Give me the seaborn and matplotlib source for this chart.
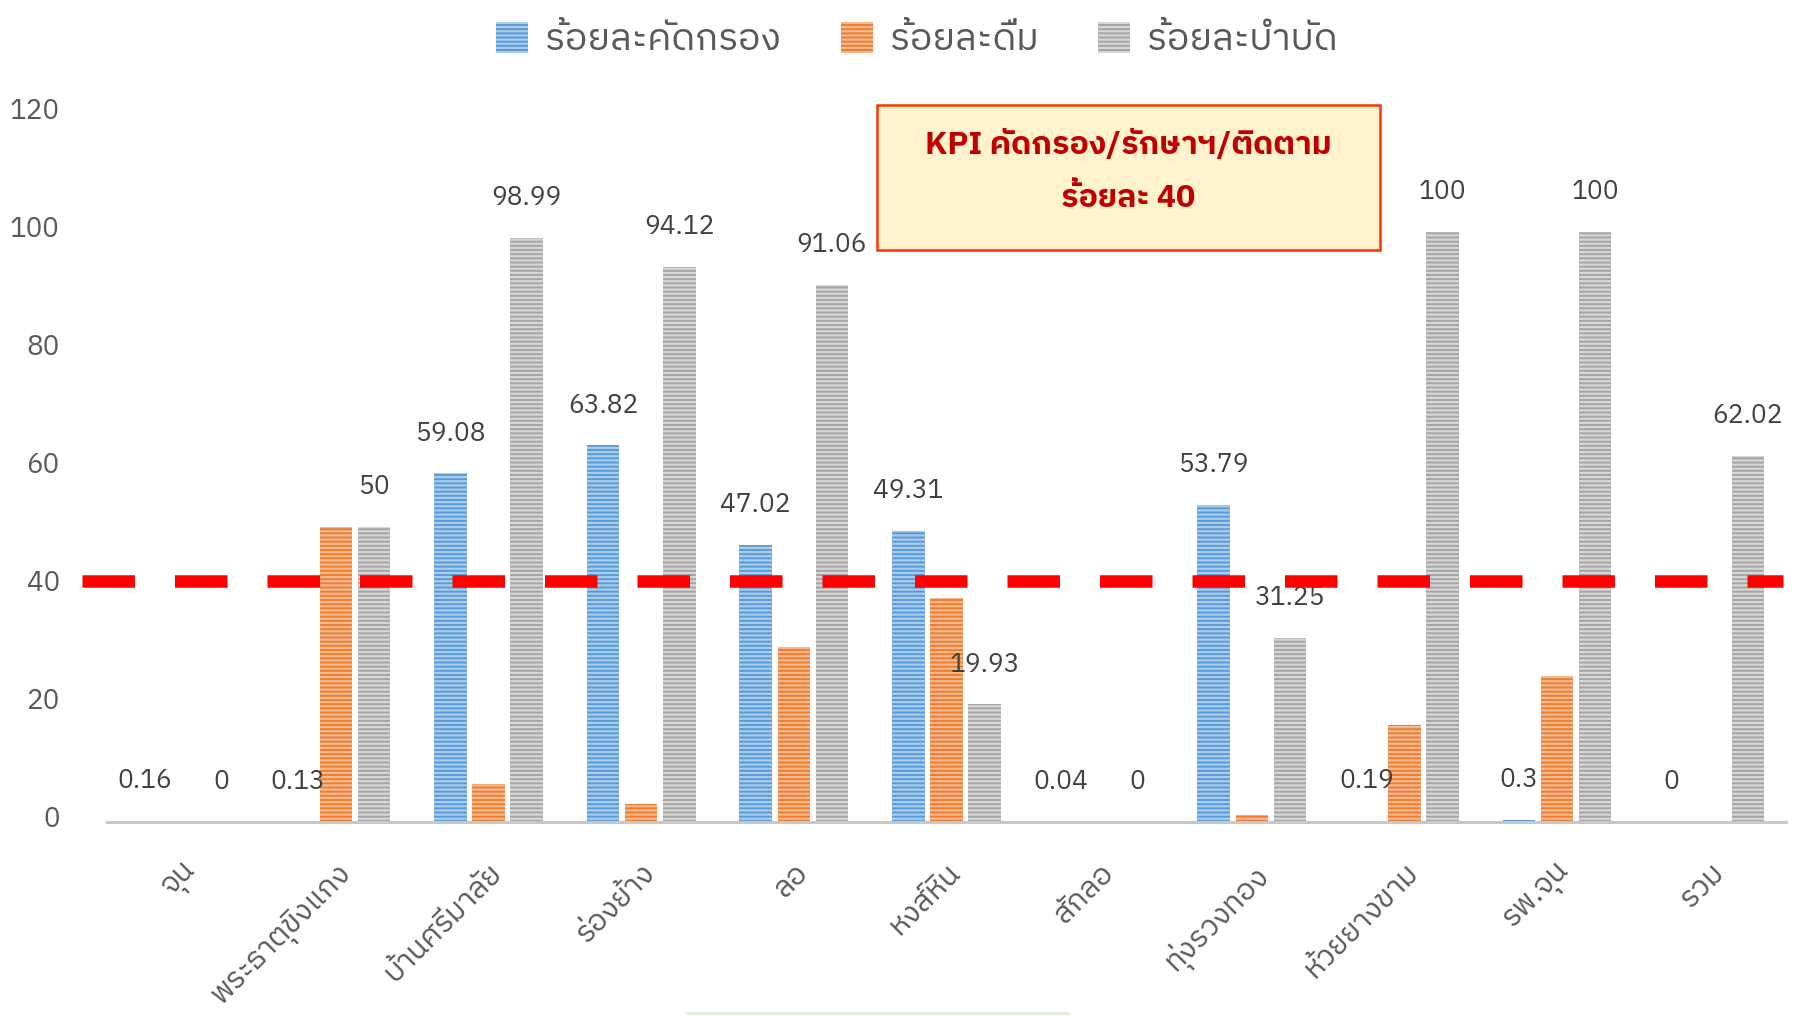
import matplotlib
matplotlib.use("Agg")
import matplotlib.pyplot as plt
import seaborn as sns
import pandas as pd
from matplotlib import font_manager
from matplotlib.ft2font import FT2Font
from matplotlib.patches import Patch, Rectangle
from matplotlib.lines import Line2D
from matplotlib.transforms import ScaledTranslation

categories = ["จุน", "พระธาตุขิงแกง", "บ้านศรีมาลัย", "ร่องย้าง", "ลอ", "หงส์หิน",
              "สักลอ", "ทุ่งรวงทอง", "ห้วยยางขาม", "รพ.จุน", "รวม"]
series = ["ร้อยละคัดกรอง", "ร้อยละดื่ม", "ร้อยละบำบัด"]
screen = [0.16, 0.13, 59.08, 63.82, 47.02, 49.31, 0.04, 53.79, 0.19, 0.3, 0]
drink = [0, 50, 6.4, 3.0, 29.6, 38.0, 0, 1.2, 16.5, 24.8, 0]
treat = [0, 50, 98.99, 94.12, 91.06, 19.93, 0, 31.25, 100, 100, 62.02]
kpi = 40
kpi_text = ["KPI คัดกรอง/รักษาฯ/ติดตาม", "ร้อยละ 40"]

colors = ["#5B9BD5", "#ED7D31", "#A5A5A5"]
stripes = ["#A8CCEC", "#F6B98E", "#D6D6D6"]


def thai_family():
    # pick an installed family that has Thai glyphs
    found = []
    for f in font_manager.fontManager.ttflist:
        try:
            cmap = FT2Font(f.fname).get_charmap()
        except Exception:
            continue
        if 0x0E01 in cmap and 0x0E2F in cmap:
            found.append(f.name)
    pref = [n for n in found if "Sans" in n and "Thai" in n]
    if pref:
        return pref[0]
    return found[0] if found else None


sns.set_style("white")
fam = thai_family()
plt.rcParams["font.family"] = ([fam] if fam else []) + ["DejaVu Sans"]
plt.rcParams["hatch.linewidth"] = 1.6

df = pd.DataFrame({
    "category": categories * 3,
    "series": [series[0]] * len(categories) + [series[1]] * len(categories) + [series[2]] * len(categories),
    "value": screen + drink + treat,
})

fig = plt.figure(figsize=(18.03, 10.16), dpi=100)
ax = fig.add_axes([0.0593, 0.1909, 0.9313, 0.6969])

sns.barplot(data=df, x="category", y="value", hue="series", palette=colors,
            width=0.75, gap=0.15, saturation=1, errorbar=None, legend=False, ax=ax)

for cont, sc in zip(ax.containers, stripes):
    for bar in cont:
        bar.set_hatch("----")
        bar.set_edgecolor(sc)
        bar.set_linewidth(0)

for cont, vals in [(ax.containers[0], screen), (ax.containers[2], treat)]:
    ax.bar_label(cont, labels=[f"{v:g}" for v in vals], padding=20,
                 fontsize=19, color="#404040")

# Excel draws the tick labels and the KPI line a few pixels above their value
lift = ScaledTranslation(0, 0.055, fig.dpi_scale_trans)
ax.plot([-0.66, 10.48], [kpi, kpi], color="#FF0000", lw=9,
        dashes=(4.2, 3.2), solid_capstyle="butt", dash_capstyle="butt",
        clip_on=False, zorder=5, transform=ax.transData + lift)

ax.set_xlim(-0.5, 10.5)
ax.set_ylim(0, 120)
ax.set_yticks(range(0, 121, 20))
ax.set_xlabel("")
ax.set_ylabel("")
ax.tick_params(axis="y", length=0, pad=34, labelsize=20, labelcolor="#595959")
ax.tick_params(axis="x", length=0, pad=26, labelsize=21.5, labelcolor="#595959")
for lab in ax.get_yticklabels():
    lab.set_transform(lab.get_transform() + lift)
plt.setp(ax.get_xticklabels(), rotation=45, ha="right", rotation_mode="anchor")
for s in ["top", "right", "left"]:
    ax.spines[s].set_visible(False)
ax.spines["bottom"].set_color("#C8C8C8")
ax.spines["bottom"].set_linewidth(2.2)

handles = [Patch(facecolor=c, edgecolor=sc, hatch="----", linewidth=0)
           for c, sc in zip(colors, stripes)]
fig.legend(handles, series, loc="upper center", bbox_to_anchor=(0.5086, 1.012), ncol=3,
           frameon=False, fontsize=27, labelcolor="#595959", handlelength=0.85,
           handleheight=0.9, columnspacing=1.6, handletextpad=0.45)

fig.add_artist(Rectangle((0.4864, 0.7539), 0.279, 0.1427, transform=fig.transFigure,
                         facecolor="#FFF2CC", edgecolor="#FF3300", linewidth=1.8, zorder=6))
fig.text(0.6259, 0.858, kpi_text[0], ha="center", va="center", fontsize=23,
         fontweight="bold", color="#C00000", zorder=7)
fig.text(0.6259, 0.805, kpi_text[1], ha="center", va="center", fontsize=23,
         fontweight="bold", color="#C00000", zorder=7)

# faint edge of another shape peeking in at the bottom
fig.add_artist(Line2D([0.381, 0.5925], [0.003, 0.003], transform=fig.transFigure,
                      color="#E2EFDA", lw=2.5))

fig.savefig("out.png", dpi=100)
